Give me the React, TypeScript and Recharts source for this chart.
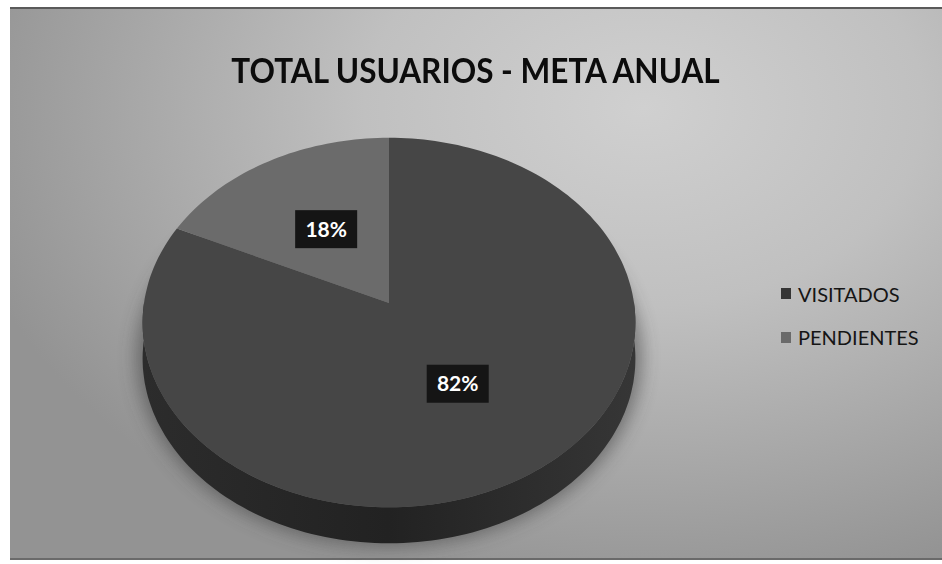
import React from 'react';
import { PieChart, Pie, Legend } from 'recharts';

const title = 'TOTAL USUARIOS - META ANUAL';
const categories = ['VISITADOS', 'PENDIENTES'];
const values = [82, 18];
const colors = ['#464646', '#6b6b6b'];
const legendColors = ['#353535', '#6a6a6a'];

const data = categories.map((name, i) => ({ name, value: values[i] }));

// fake 3D tilt: vertical squash, perspective and depth of the rim
const TILT = 0.7457;
const PERSP = 0.1057;
const DEPTH = 36;

const project = (cx: number, cy: number, r: number, angle: number, f = 1) => {
  const a = (angle * Math.PI) / 180;
  const u = Math.cos(a) * f;
  const v = Math.sin(a) * f;
  const w = 1 + PERSP * v;
  return [cx + (r * u) / w, cy - (r * TILT * v) / w];
};

const arcPoints = (cx: number, cy: number, r: number, a1: number, a2: number) => {
  const steps = Math.max(2, Math.ceil(Math.abs(a2 - a1) / 1.5));
  const pts: number[][] = [];
  for (let i = 0; i <= steps; i++) {
    pts.push(project(cx, cy, r, a1 + ((a2 - a1) * i) / steps));
  }
  return pts;
};

const toPath = (pts: number[][]) =>
  'M' + pts.map((p) => `${p[0].toFixed(1)},${p[1].toFixed(1)}`).join(' L') + ' Z';

const renderSlice = (props: any) => {
  const { cx, cy, outerRadius, startAngle, endAngle, index, percent } = props;
  const top = [[cx, cy], ...arcPoints(cx, cy, outerRadius, startAngle, endAngle)];

  // only the front rim shows a side wall
  const lo = Math.max(Math.min(startAngle, endAngle), -180);
  const hi = Math.min(Math.max(startAngle, endAngle), 0);
  let side = null;
  let shadow = null;
  if (hi > lo) {
    const rim = arcPoints(cx, cy, outerRadius, lo, hi);
    const back = rim.slice().reverse().map(([x, y]) => [x, y + DEPTH]);
    side = <path d={toPath([...rim, ...back])} fill="url(#sideGrad)" />;
    const full = arcPoints(cx, cy, outerRadius + 6, 0, 360).map(([x, y]) => [x, y + DEPTH - 2]);
    shadow = <path d={toPath(full)} fill="#3a3a3a" opacity={0.55} filter="url(#pieShadow)" />;
  }

  const mid = (startAngle + endAngle) / 2;
  const [lx, ly] = project(cx, cy, outerRadius, mid, 0.5);
  const label = `${Math.round(percent * 100)}%`;

  return (
    <g key={`slice-${index}`}>
      {index === 0 && (
        <defs>
          <linearGradient id="sideGrad" x1="0" y1="0" x2="1" y2="0">
            <stop offset="0%" stopColor="#2c2c2c" />
            <stop offset="50%" stopColor="#222222" />
            <stop offset="100%" stopColor="#363636" />
          </linearGradient>
          <filter id="pieShadow" x="-20%" y="-20%" width="140%" height="140%">
            <feGaussianBlur stdDeviation="9" />
          </filter>
        </defs>
      )}
      {shadow}
      {side}
      <path d={toPath(top)} fill={colors[index]} />
      <rect x={lx - 31} y={ly - 19} width={62} height={38} fill="#151515" />
      <text
        x={lx}
        y={ly + 7.5}
        textAnchor="middle"
        fill="#ffffff"
        fontFamily="Lato, sans-serif"
        fontWeight={700}
        fontSize={21}
      >
        {label}
      </text>
    </g>
  );
};

const renderLegend = () => (
  <div style={{ fontFamily: 'Lato, sans-serif', fontSize: 20, color: '#151515' }}>
    {categories.map((c, i) => (
      <div
        key={c}
        style={{ display: 'flex', alignItems: 'center', height: 24, marginBottom: 19.5, whiteSpace: 'nowrap' }}
      >
        <span
          style={{ display: 'inline-block', width: 10, height: 11, background: legendColors[i], marginRight: 7 }}
        />
        <span style={{ lineHeight: '24px' }}>{c}</span>
      </div>
    ))}
  </div>
);

export default function App() {
  return (
    <div style={{ position: 'absolute', left: 0, top: 0, width: 942, height: 564, background: '#ffffff', overflow: 'hidden' }}>
      {/* scanned card */}
      <div
        style={{
          position: 'absolute',
          left: 10,
          top: 7,
          width: 932,
          height: 553,
          background: 'radial-gradient(ellipse 75% 90% at 68% 18%, #d0d0d0 0%, #c0c0c0 40%, #a2a2a2 80%, #939393 100%)',
          borderTop: '2px solid #5a5a5a',
          borderBottom: '2px solid #6a6a6a',
          boxSizing: 'border-box',
        }}
      />
      <div
        style={{
          position: 'absolute',
          left: 0,
          width: 951,
          top: 48,
          textAlign: 'center',
          fontFamily: 'Lato, sans-serif',
          fontWeight: 700,
          fontSize: 35,
          lineHeight: '42px',
          color: '#0c0c0c',
          whiteSpace: 'nowrap',
          transform: 'scaleX(0.9)',
          transformOrigin: '475.5px 0',
        }}
      >
        {title}
      </div>
      <div style={{ position: 'absolute', left: 0, top: 0 }}>
        <PieChart width={942} height={564} margin={{ top: 0, right: 0, bottom: 0, left: 0 }}>
          <Pie
            data={data}
            dataKey="value"
            nameKey="name"
            cx={389}
            cy={303}
            outerRadius={245}
            startAngle={90}
            endAngle={-270}
            fill="transparent"
            stroke="none"
            label={renderSlice}
            labelLine={false}
            isAnimationActive={false}
          />
          <Legend
            content={renderLegend}
            wrapperStyle={{ position: 'absolute', left: 781, top: 281.5, width: 'auto' }}
          />
        </PieChart>
      </div>
    </div>
  );
}
